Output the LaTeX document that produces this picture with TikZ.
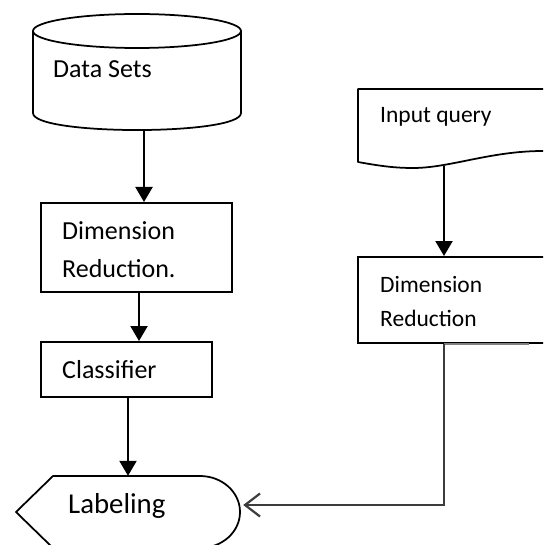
\documentclass[tikz,border=0pt]{standalone}
\usepackage{fontspec}
\setmainfont{Carlito}
\usetikzlibrary{arrows.meta}
\definecolor{conn}{HTML}{3C3C3C}
\definecolor{connlight}{HTML}{808080}
\begin{document}
\begin{tikzpicture}[x=1pt,y=-1pt,
  box/.style={draw=black,line width=2pt,rectangle,inner sep=0pt,fill=white},
  ghost/.style={rectangle,inner sep=0pt},
  shapeline/.style={draw=black,line width=1.75pt,fill=white,line join=round},
  lbl/.style={anchor=base west,inner sep=0pt,font=\fontsize{26}{30}\selectfont},
  lbls/.style={anchor=base west,inner sep=0pt,font=\fontsize{23.5}{28}\selectfont},
  lbll/.style={anchor=base west,inner sep=0pt,font=\fontsize{28.8}{34}\selectfont},
  arr/.style={line width=2.2pt,-{Triangle[length=15pt,width=17pt]}},
  oarr/.style={draw=conn,line width=2.2pt,-{Straight Barb[length=15pt,width=23pt]}}
]
\clip (0,0) rectangle (543,545);
\fill[white] (0,0) rectangle (543,545);

% Data Sets cylinder
\draw[shapeline] (33,31) -- (33,113) .. controls (33,135.7) and (241,135.7) .. (241,113) -- (241,31);
\draw[shapeline] (137,31) ellipse [x radius=104pt, y radius=17pt];
\node[ghost,minimum width=208pt,minimum height=116pt] (ds) at (137,72) {};
\node[lbl] (dst) at (53,78) {Data Sets};

% Dimension Reduction (left)
\node[box,minimum width=191pt,minimum height=89pt] (dr1) at (136.5,247.5) {};
\node[lbl] (dr1a) at (62,239) {Dimension};
\node[lbl] (dr1b) at (62,277) {Reduction.};

% Classifier
\node[box,minimum width=171pt,minimum height=55pt] (cl) at (126.5,369.5) {};
\node[lbl] (clt) at (62,378) {Classifier};

% Labeling display shape
\draw[shapeline] (16,512) -- (53,476) -- (200,476) .. controls (222,476) and (240,492) .. (240,512)
  .. controls (240,532) and (222,548) .. (200,548) -- (53,548) -- cycle;
\node[ghost,minimum width=224pt,minimum height=72pt] (lab) at (128,512) {};
\node[lbll] (labt) at (68,513) {Labeling};

% Input query document
\draw[shapeline] (358,162) -- (358,89) -- (598,89) -- (598,154)
  .. controls (575,152) and (560,151) .. (543,151)
  .. controls (490,151) and (450,168) .. (413,168)
  .. controls (395,168) and (380,166) .. (358,162) -- cycle;
\node[ghost,minimum width=240pt,minimum height=76pt] (iq) at (478,127) {};
\node[lbls] (iqt) at (380,123) {Input query};

% Dimension Reduction (right)
\node[box,minimum width=240pt,minimum height=86pt] (dr2) at (478,300) {};
\node[lbls] (dr2a) at (380,292) {Dimension};
\node[lbls] (dr2b) at (380,326) {Reduction};

% Connectors
\draw[arr] ([xshift=7pt,yshift=-58pt]ds.center) -- ([xshift=7.5pt]dr1.north);
\draw[arr] ([xshift=2.5pt]dr1.south) -- ([xshift=12.5pt]cl.north);
\draw[arr] ([xshift=1.5pt]cl.south) -- (lab.north);
\draw[arr] ([xshift=-34pt,yshift=-1pt]iq.south) -- ([xshift=-34pt]dr2.north);

\coordinate (c0) at ([xshift=51pt]dr2.south);
\coordinate (c1) at ([xshift=-34pt]dr2.south);
\draw[connlight,line width=2.5pt] (c0) -- (c1);
\draw[oarr] (c1) |- ([xshift=3pt,yshift=7pt]lab.east);
\end{tikzpicture}
\end{document}
